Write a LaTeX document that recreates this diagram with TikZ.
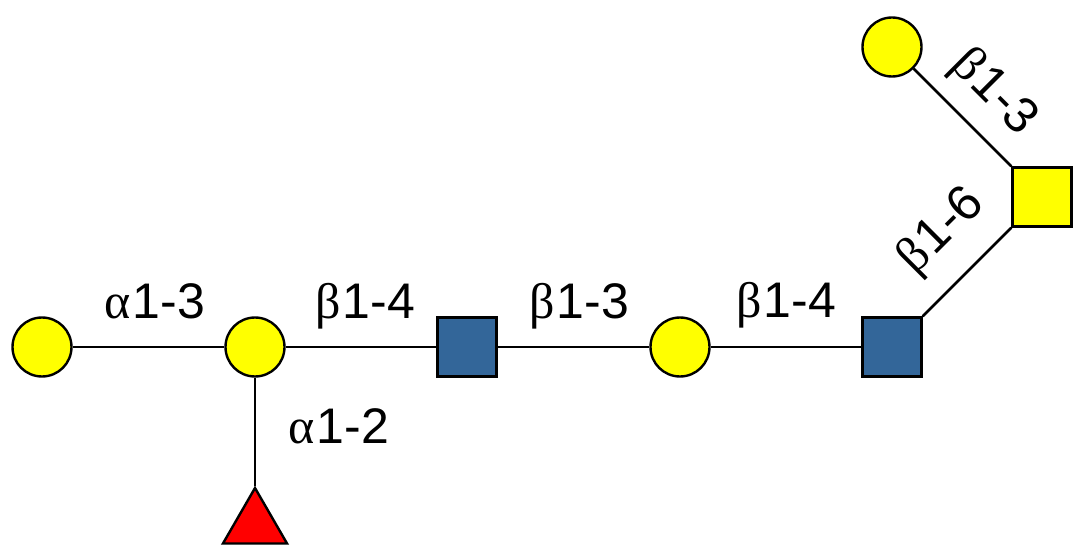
\documentclass[tikz,border=0pt]{standalone}
\usepackage{fontspec}
\setmainfont{Liberation Sans}
\newfontfamily\grk{Liberation Serif}
\usetikzlibrary{shapes.geometric}
\definecolor{galyellow}{RGB}{255,255,0}
\definecolor{glcblue}{RGB}{51,102,153}
\definecolor{fucred}{RGB}{255,0,0}
\newcommand{\GA}{{\grk α}\kern2pt}
\newcommand{\GB}{{\grk β}\kern2pt}
\tikzset{
  sugarcirc/.style={circle,draw=black,line width=2.4pt,fill=galyellow,minimum size=59pt,inner sep=0pt},
  sugarsq/.style={rectangle,draw=black,line width=2.4pt,minimum size=59pt,inner sep=0pt},
  sugartri/.style={regular polygon,regular polygon sides=3,draw=black,line width=2.4pt,fill=fucred,minimum size=74pt,inner sep=0pt},
  bond/.style={draw=black,line width=2.6pt},
  lbl/.style={inner sep=0pt,font=\fontsize{50}{54}\selectfont},
}
\begin{document}
\begin{tikzpicture}[x=1pt,y=-1pt]
\useasboundingbox (0,0) rectangle (1088,553);
\node[sugarcirc] (gal1) at (42,347) {};
\node[sugarcirc] (gal2) at (255,347) {};
\node[sugartri] (fuc) at (255,525) {};
\node[sugarsq,fill=glcblue] (glc1) at (467,347) {};
\node[sugarcirc] (gal3) at (680,347) {};
\node[sugarsq,fill=glcblue] (glc2) at (892,347) {};
\node[sugarsq,fill=galyellow] (galn) at (1042,197) {};
\node[sugarcirc] (gal4) at (892,47) {};
\draw[bond] (gal1) -- (gal2);
\draw[bond] (gal2) -- (glc1);
\draw[bond] (gal2) -- (fuc);
\draw[bond] (glc1) -- (gal3);
\draw[bond] (gal3) -- (glc2);
\draw[bond] (glc2) -- (galn);
\draw[bond] (galn) -- (gal4);
\node[lbl,anchor=base] (l1) at (155,319) {\GA1-3};
\node[lbl,anchor=base] (l2) at (365,319) {\GB1-4};
\node[lbl,anchor=base] (l3) at (579,319) {\GB1-3};
\node[lbl,anchor=base] (l4) at (786,318) {\GB1-4};
\node[lbl,anchor=base] (l5) at (339,444) {\GA1-2};
\node[lbl,rotate=45] (l6) at (942,232) {\GB1-6};
\node[lbl,rotate=-45] (l7) at (993,93) {\GB1-3};
\end{tikzpicture}
\end{document}
